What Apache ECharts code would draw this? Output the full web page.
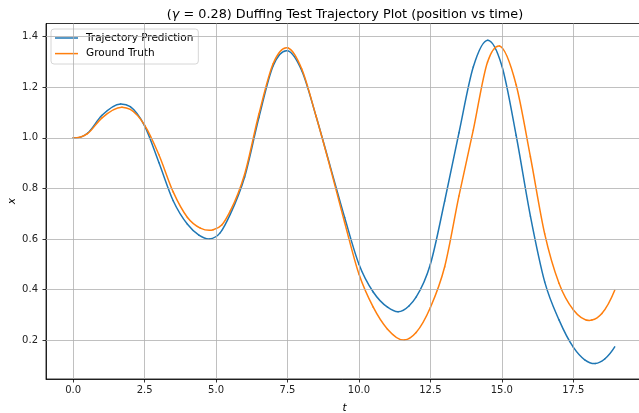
<!DOCTYPE html>
<html><head><meta charset="utf-8">
<script src="https://cdn.jsdelivr.net/npm/echarts@6/dist/echarts.min.js"></script>
<style>html,body{margin:0;padding:0;background:#fff}#c{width:639px;height:413px}</style>
</head><body><div id="c"></div>
<script>
const seriesNames = ['Trajectory Prediction', 'Ground Truth'];
const xTicks = [0, 2.5, 5, 7.5, 10, 12.5, 15, 17.5];
const yTicks = [0.2, 0.4, 0.6, 0.8, 1.0, 1.2, 1.4];

// Trajectory Prediction (blue): time and position
const predT = [0,0.5,1.0,1.66,2.0,2.5,3.0,3.5,4.0,4.4,4.77,5.15,5.5,6.0,6.5,7.0,7.5,8.0,8.5,9.0,9.5,10.0,10.5,11.0,11.37,11.75,12.0,12.5,13.0,13.5,14.0,14.51,15.0,15.5,16.0,16.5,17.0,17.5,17.9,18.27,18.6,18.95];
const predX = [1.000,1.018,1.088,1.134,1.123,1.047,0.902,0.751,0.658,0.615,0.600,0.625,0.698,0.845,1.080,1.285,1.344,1.265,1.085,0.885,0.685,0.500,0.390,0.330,0.312,0.335,0.370,0.500,0.750,1.020,1.280,1.386,1.285,1.010,0.690,0.430,0.280,0.172,0.122,0.107,0.125,0.173];
// Ground Truth (orange): time and position
const truthT = [0,0.5,1.0,1.71,2.0,2.5,3.0,3.5,4.0,4.45,4.9,5.2,5.5,6.0,6.5,7.0,7.52,8.0,8.5,9.0,9.5,10.0,10.5,11.0,11.59,12.0,12.5,13.0,13.5,14.0,14.5,14.92,15.5,16.0,16.5,17.0,17.5,18.15,18.5,18.95];
const truthX = [1.000,1.016,1.078,1.121,1.112,1.050,0.933,0.786,0.685,0.643,0.636,0.655,0.711,0.856,1.094,1.294,1.355,1.272,1.085,0.880,0.665,0.461,0.330,0.243,0.200,0.230,0.329,0.490,0.770,1.030,1.300,1.363,1.210,0.925,0.620,0.425,0.320,0.279,0.305,0.397];

const zip = (a, b) => a.map((v, i) => [v, b[i]]);
const font = 'DejaVu Sans';
const gridLine = {color: '#b0b0b0', width: 0.8, type: 'solid'};

// Smooth curve through the data points (cubic Hermite in pixel space, positions from the axes)
function curveRenderer(T, X, color) {
  return function (params, api) {
    const i = params.dataIndex;
    const n = T.length;
    if (i >= n - 1) return null;
    const P = T.map((t, k) => api.coord([t, X[k]]));
    const slope = k => {
      if (k === 0) {
        const h0 = P[1][0] - P[0][0], h1 = P[2][0] - P[1][0];
        const s0 = (P[1][1] - P[0][1]) / h0, s1 = (P[2][1] - P[1][1]) / h1;
        return s0 + (s0 - s1) * h0 / (h0 + h1);
      }
      if (k === n - 1) {
        const h0 = P[k - 1][0] - P[k - 2][0], h1 = P[k][0] - P[k - 1][0];
        const s0 = (P[k - 1][1] - P[k - 2][1]) / h0, s1 = (P[k][1] - P[k - 1][1]) / h1;
        return s1 + (s1 - s0) * h1 / (h0 + h1);
      }
      const h0 = P[k][0] - P[k - 1][0], h1 = P[k + 1][0] - P[k][0];
      const s0 = (P[k][1] - P[k - 1][1]) / h0, s1 = (P[k + 1][1] - P[k][1]) / h1;
      return (s0 * h1 + s1 * h0) / (h0 + h1);
    };
    const a = P[i], b = P[i + 1];
    const dx = (b[0] - a[0]) / 3;
    const ma = slope(i), mb = slope(i + 1);
    return {
      type: 'bezierCurve',
      shape: {x1: a[0], y1: a[1], x2: b[0], y2: b[1],
        cpx1: a[0] + dx, cpy1: a[1] + ma * dx, cpx2: b[0] - dx, cpy2: b[1] - mb * dx},
      style: {stroke: color, lineWidth: 1.5, fill: null, lineCap: 'round'},
      silent: true
    };
  };
}

const chart = echarts.init(document.getElementById('c'), null, {renderer: 'canvas'});
chart.setOption({
  animation: false,
  backgroundColor: '#fff',
  textStyle: {fontFamily: font},
  title: {
    text: '({i|γ} = 0.28) Duffing Test Trajectory Plot (position vs time)',
    left: 340, top: 3, textAlign: 'center',
    textStyle: {fontFamily: font, fontSize: 12.8, fontWeight: 'normal', color: '#000',
      rich: {i: {fontFamily: font, fontSize: 12.8, fontStyle: 'italic', color: '#000'}}}
  },
  legend: {
    orient: 'vertical', left: 51, top: 29,
    data: seriesNames,
    icon: 'rect', itemWidth: 23, itemHeight: 1.5, itemGap: 3.6,
    padding: [3, 5, 4.4, 4],
    backgroundColor: '#fff', borderColor: '#d6d6d6', borderWidth: 1, borderRadius: 3,
    textStyle: {fontFamily: font, fontSize: 10.5, lineHeight: 12, color: '#000', padding: [0, 0, 0, 3]}
  },
  grid: {left: 46, top: 23.5, right: -4.3, bottom: 34, show: true, borderColor: '#000', borderWidth: 0.8,
    containLabel: false, outerBoundsMode: 'none'},
  xAxis: {
    type: 'value', min: -0.95, max: 19.95,
    name: 't', nameLocation: 'middle', nameGap: 24,
    nameTextStyle: {fontFamily: font, fontSize: 10.5, fontStyle: 'italic', color: '#000'},
    axisLine: {show: true, onZero: false, lineStyle: {color: '#000', width: 0.8}},
    axisTick: {show: true, length: 3.5, lineStyle: {color: '#000', width: 0.8}, customValues: xTicks},
    axisLabel: {fontFamily: font, fontSize: 10, color: '#222', margin: 6, customValues: xTicks,
      formatter: v => v.toFixed(1)},
    splitLine: {show: false}
  },
  yAxis: {
    type: 'value', min: 0.046, max: 1.452,
    name: 'x', nameLocation: 'middle', nameGap: 28, nameRotate: 90, nameMoveOverlap: false,
    nameTextStyle: {fontFamily: font, fontSize: 10.5, fontStyle: 'italic', color: '#000'},
    axisLine: {show: true, onZero: false, lineStyle: {color: '#000', width: 0.8}},
    axisTick: {show: true, length: 3.5, lineStyle: {color: '#000', width: 0.8}, customValues: yTicks},
    axisLabel: {fontFamily: font, fontSize: 10, color: '#222', margin: 8, customValues: yTicks,
      formatter: v => v.toFixed(1)},
    splitLine: {show: false}
  },
  series: [
    {
      name: 'grid', type: 'line', data: [[0, 1]], showSymbol: false, silent: true,
      lineStyle: {opacity: 0}, z: 1, legendHoverLink: false,
      markLine: {
        silent: true, symbol: ['none', 'none'], label: {show: false}, animation: false,
        lineStyle: gridLine,
        data: xTicks.map(v => ({xAxis: v})).concat(yTicks.map(v => ({yAxis: v})))
      }
    },
    {
      name: seriesNames[0], type: 'custom', data: zip(predT, predX), encode: {x: 0, y: 1},
      renderItem: curveRenderer(predT, predX, '#1f77b4'), clip: true,
      z: 3, itemStyle: {color: '#1f77b4'}
    },
    {
      name: seriesNames[1], type: 'custom', data: zip(truthT, truthX), encode: {x: 0, y: 1},
      renderItem: curveRenderer(truthT, truthX, '#ff7f0e'), clip: true,
      z: 4, itemStyle: {color: '#ff7f0e'}
    }
  ]
});
</script>
</body></html>
